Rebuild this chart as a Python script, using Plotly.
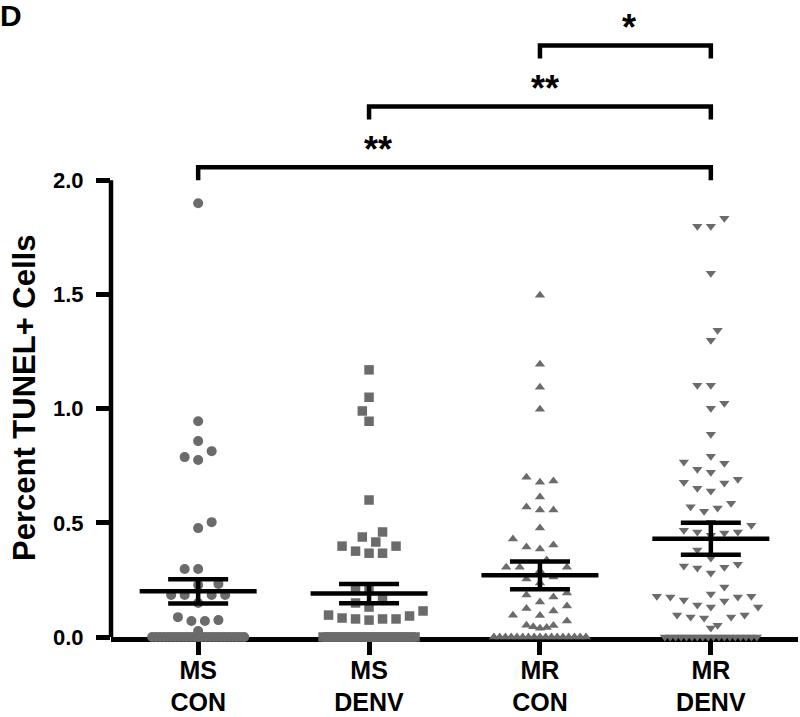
import plotly.graph_objects as go

# ---------------- data ----------------
categories = ["MS<br>CON", "MS<br>DENV", "MR<br>CON", "MR<br>DENV"]
symbols = ["circle", "square", "triangle-up", "triangle-down"]
marker_sizes = [10, 9.5, 9, 9]

ms_con = [1.90, 0.945, 0.858, 0.814, 0.775, 0.788, 0.503, 0.477, 0.298, 0.298,
          0.228, 0.232, 0.184, 0.184, 0.184, 0.184, 0.149, 0.087, 0.070, 0.070,
          0.074, 0.026]
ms_con_zeros = 25

ms_denv = [1.17, 1.05, 0.99, 0.945, 0.600, 0.460, 0.438, 0.416, 0.398, 0.398,
           0.376, 0.367, 0.367, 0.210, 0.210, 0.166, 0.131, 0.149, 0.114, 0.092,
           0.079, 0.079, 0.074, 0.083, 0.079, 0.096]
ms_denv_zeros = 24

mr_con = [1.497, 1.195, 1.094, 0.998, 0.700, 0.678, 0.683, 0.613, 0.556, 0.556,
          0.569, 0.477, 0.429, 0.394, 0.385, 0.403, 0.337, 0.306, 0.306, 0.306,
          0.290, 0.263, 0.236, 0.254, 0.193, 0.175, 0.184, 0.136, 0.153, 0.114,
          0.094, 0.070, 0.095, 0.125, 0.050, 0.042, 0.038, 0.045, 0.052]
mr_con_zeros = 17

mr_denv = [1.834, 1.799, 1.799, 1.593, 1.344, 1.300, 1.103, 1.103, 1.024, 1.002,
           0.888, 0.792, 0.761, 0.766, 0.722, 0.735, 0.691, 0.674, 0.678, 0.652,
           0.640, 0.565, 0.586, 0.570, 0.551, 0.503, 0.490, 0.468, 0.460, 0.446,
           0.455, 0.460, 0.381, 0.346, 0.319, 0.306, 0.280, 0.302, 0.311, 0.219,
           0.179, 0.175, 0.158, 0.140, 0.162, 0.175, 0.179, 0.188, 0.131, 0.131,
           0.096, 0.088, 0.083, 0.088, 0.096, 0.039, 0.052]
mr_denv_zeros = 18

groups = [ms_con, ms_denv, mr_con, mr_denv]
zero_counts = [ms_con_zeros, ms_denv_zeros, mr_con_zeros, mr_denv_zeros]

means = [0.20, 0.19, 0.27, 0.43]
sems = [0.053, 0.042, 0.061, 0.070]

y_tick_vals = [0.0, 0.5, 1.0, 1.5, 2.0]
y_tick_text = ["0.0", "0.5", "1.0", "1.5", "2.0"]

# significance comparisons: (from group, to group, label)
comparisons = [(0, 3, "**"), (1, 3, "**"), (2, 3, "*")]
bracket_levels = [2.057, 2.324, 2.591]
star_x = [1.05, 2.03, 2.52]

# ---------------- layout geometry ----------------
W, H = 800, 717
ml, mr, mt, mb = 111, 2, 0, 80
plot_w = W - ml - mr
plot_h = H - mt - mb
x_range = [-0.51, 3.51]
y_range = [0.0, 2.79]
sx = plot_w / (x_range[1] - x_range[0])
sy = plot_h / (y_range[1] - y_range[0])

GRAY = "#6b6b6b"
FONT = "Liberation Sans, Arial, Helvetica, sans-serif"


def swarm(values, n_zero, cat, d=12.0, step=6.75, zero_span=92.0):
    """Simple beeswarm in pixel space; returns x (category units) and y."""
    placed = []
    xs, ys = [], []
    if n_zero > 0:
        sp = min(2 * step, zero_span / max(n_zero - 1, 1))
        for k in range(n_zero):
            off = (k - (n_zero - 1) / 2) * sp
            placed.append((off, 0.0, "zero"))
            xs.append(cat + off / sx)
            ys.append(0.0)
    pref = 1
    for v in sorted(values):
        yp = v * sy
        best = None
        if yp < 7:
            obstacles = [(p[0], p[1], 0.0) for p in placed if p[2] != "zero"]
        elif yp < d:
            # near-zero points hug the ends of the zero row
            obstacles = [(p[0], p[1], 8.0 if p[2] == "zero" else 5.0) for p in placed]
        else:
            obstacles = [(p[0], p[1], d) for p in placed]
        for m in range(0, 80):
            cands = [0.0] if m == 0 else [pref * m * step, -pref * m * step]
            for off in cands:
                if all((off - px) ** 2 + (yp - py) ** 2 >= dd * dd
                       for px, py, dd in obstacles):
                    best = off
                    break
            if best is not None:
                break
        if best is None:
            best = 0.0
        if best > 0:
            pref = -1
        elif best < 0:
            pref = 1
        placed.append((best, yp, "pt"))
        xs.append(cat + best / sx)
        ys.append(v)
    return xs, ys


fig = go.Figure()

for i, vals in enumerate(groups):
    xs, ys = swarm(vals, zero_counts[i], i)
    fig.add_trace(go.Scatter(
        x=xs, y=ys, mode="markers", cliponaxis=False,
        marker=dict(symbol=symbols[i], size=marker_sizes[i], color=GRAY,
                    line=dict(width=0)),
        showlegend=False, hoverinfo="skip"))

# mean line + SEM (line-ew marker length = 1.4 * size)
fig.add_trace(go.Scatter(
    x=list(range(len(categories))), y=means, mode="markers", cliponaxis=False,
    marker=dict(symbol="line-ew", size=117 / 1.4, color="black",
                line=dict(width=4.5, color="black")),
    error_y=dict(type="data", array=sems, visible=True, thickness=4.5,
                 width=30, color="black"),
    showlegend=False, hoverinfo="skip"))

# significance brackets
leg = 0.057
for (a, b, lab), lvl, sxp in zip(comparisons, bracket_levels, star_x):
    fig.add_trace(go.Scatter(
        x=[a, a, b, b], y=[lvl - leg, lvl, lvl, lvl - leg], mode="lines",
        line=dict(color="black", width=4.5), cliponaxis=False,
        showlegend=False, hoverinfo="skip"))
    fig.add_annotation(x=sxp, y=lvl - 0.02, xref="x", yref="y", text=lab,
                       showarrow=False, yanchor="bottom", xanchor="center",
                       font=dict(family=FONT, size=36, color="black", weight="bold"))

# y-axis line (only from 0 to 2)
fig.add_shape(type="line", xref="paper", yref="y", x0=0, x1=0, y0=0, y1=2.0,
              line=dict(color="black", width=4.5))

# y title
fig.add_annotation(x=(24 - ml) / plot_w, y=1 - (398 - mt) / plot_h,
                   xref="paper", yref="paper", text="Percent TUNEL+ Cells",
                   textangle=-90, showarrow=False, xanchor="center",
                   yanchor="middle",
                   font=dict(family=FONT, size=31, color="black", weight="bold"))

# panel letter
fig.add_annotation(x=(-2 - ml) / plot_w, y=1 - (15 - mt) / plot_h,
                   xref="paper", yref="paper", text="D", showarrow=False,
                   xanchor="left", yanchor="middle",
                   font=dict(family=FONT, size=30, color="black", weight="bold"))

fig.update_layout(
    width=W, height=H,
    margin=dict(l=ml, r=mr, t=mt, b=mb, pad=0),
    paper_bgcolor="white", plot_bgcolor="white",
    showlegend=False,
    xaxis=dict(range=x_range, tickvals=list(range(len(categories))),
               ticktext=categories, showgrid=False, zeroline=False,
               automargin=False, ticklabelstandoff=-6,
               showline=True, linecolor="black", linewidth=4.5,
               ticks="outside", ticklen=13, tickwidth=4.5, tickcolor="black",
               layer="below traces",
               tickfont=dict(family=FONT, size=25, color="black", weight="bold")),
    yaxis=dict(range=y_range, tickvals=y_tick_vals, ticktext=y_tick_text,
               showgrid=False, zeroline=False, showline=False,
               automargin=False, ticklabelstandoff=8,
               ticks="outside", ticklen=14, tickwidth=4.5, tickcolor="black",
               layer="below traces",
               tickfont=dict(family=FONT, size=22, color="black", weight="bold")),
)

fig.write_html("out.html",
               config={"displayModeBar": False},
               post_script="document.body.style.margin='0px';"
                           "document.body.style.overflow='hidden';")
